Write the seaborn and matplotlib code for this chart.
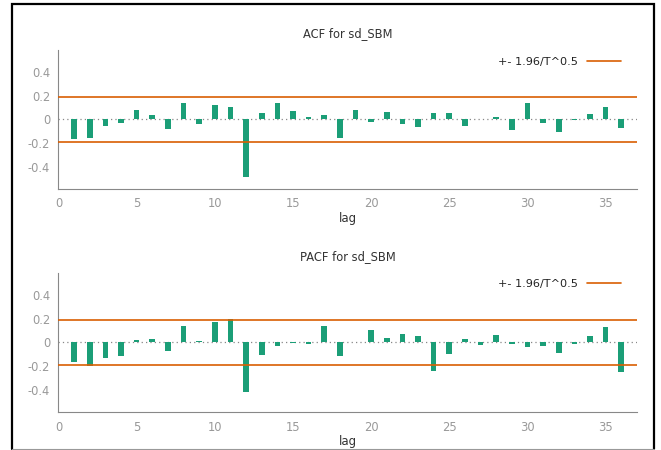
import matplotlib
matplotlib.use("Agg")
import matplotlib.pyplot as plt
from matplotlib.lines import Line2D
import seaborn as sns
import numpy as np

lags = list(range(1, 37))
acf_vals = [-0.167, -0.158, -0.056, -0.031, 0.079, 0.042, -0.079, 0.144, -0.042, 0.119,
            0.102, -0.489, 0.051, 0.144, 0.068, 0.017, 0.034, -0.153, 0.079, -0.023,
            0.065, -0.040, -0.062, 0.059, 0.051, -0.054, 0.006, 0.017, -0.093, 0.136,
            -0.031, -0.107, -0.003, 0.048, 0.102, -0.076]
pacf_vals = [-0.169, -0.203, -0.131, -0.114, 0.017, 0.029, -0.069, 0.140, 0.011, 0.171,
             0.197, -0.423, -0.106, -0.029, -0.006, -0.017, 0.140, -0.114, 0.003, 0.109,
             0.034, 0.071, 0.054, -0.243, -0.100, 0.029, -0.020, 0.060, -0.011, -0.037,
             -0.026, -0.091, -0.017, 0.054, 0.131, -0.251]
conf = 0.193
titles = ["ACF for sd_SBM", "PACF for sd_SBM"]
yticks = [-0.4, -0.2, 0, 0.2, 0.4]
yticklabels = ["-0.4", "-0.2", "0", "0.2", "0.4"]
xticks = [0, 5, 10, 15, 20, 25, 30, 35]

sns.set_style("white")
plt.rcParams['font.family'] = ['DejaVu Sans']
pal = sns.color_palette("Dark2")
bar_col = pal[0]
line_col = pal[1]

fig = plt.figure(figsize=(6.61, 4.5), dpi=100)
ax1 = fig.add_axes([0.0885, 0.58, 0.875, 0.309])
ax2 = fig.add_axes([0.0885, 0.084, 0.875, 0.310])

for ax, vals, title in zip([ax1, ax2], [acf_vals, pacf_vals], titles):
    sns.barplot(x=lags, y=vals, native_scale=True, width=0.36, color=bar_col,
                saturation=1, edgecolor="none", ax=ax, zorder=3)
    ax.axhline(0, color="#888888", ls=(0, (1, 2.5)), lw=0.9, zorder=2)
    ax.axhline(conf, color=line_col, lw=1.2, zorder=4, label="+- 1.96/T^0.5")
    ax.axhline(-conf, color=line_col, lw=1.2, zorder=4)
    ax.set_xlim(0, 37)
    ax.set_ylim(-0.59, 0.59)
    ax.set_xticks(xticks)
    ax.set_xticklabels([str(t) for t in xticks])
    ax.set_yticks(yticks)
    ax.set_yticklabels(yticklabels)
    ax.tick_params(axis="both", direction="in", length=3, width=0.8, color="#888888",
                   labelcolor="#999999", labelsize=8.3, pad=6)
    for s in ["top", "right"]:
        ax.spines[s].set_visible(False)
    for s in ["left", "bottom"]:
        ax.spines[s].set_color("#888888")
        ax.spines[s].set_linewidth(0.8)
    ax.set_title(title, fontsize=8.3, color="#333333", pad=9)
    ax.set_xlabel("lag", fontsize=8.5, color="#333333", labelpad=1)
    ax.set_ylabel("")
    leg = ax.legend(loc="upper right", bbox_to_anchor=(0.99, 1.025), frameon=False,
                    markerfirst=False, fontsize=8.1, handlelength=3.0, handletextpad=0.8)
    for t in leg.get_texts():
        t.set_color("#222222")

# page frame: black on left/top/right, thin grey at the bottom
x0, x1 = 11.5 / 661, 653.5 / 661
y0, y1 = 1 - 449.3 / 450, 1 - 4 / 450
fig.add_artist(Line2D([x0, x0, x1, x1], [y0, y1, y1, y0], transform=fig.transFigure,
                      color="black", lw=1.6, solid_joinstyle="miter"))
fig.add_artist(Line2D([x0, x1], [y0, y0], transform=fig.transFigure,
                      color="#999999", lw=0.8))

fig.savefig("out.png", dpi=100)
